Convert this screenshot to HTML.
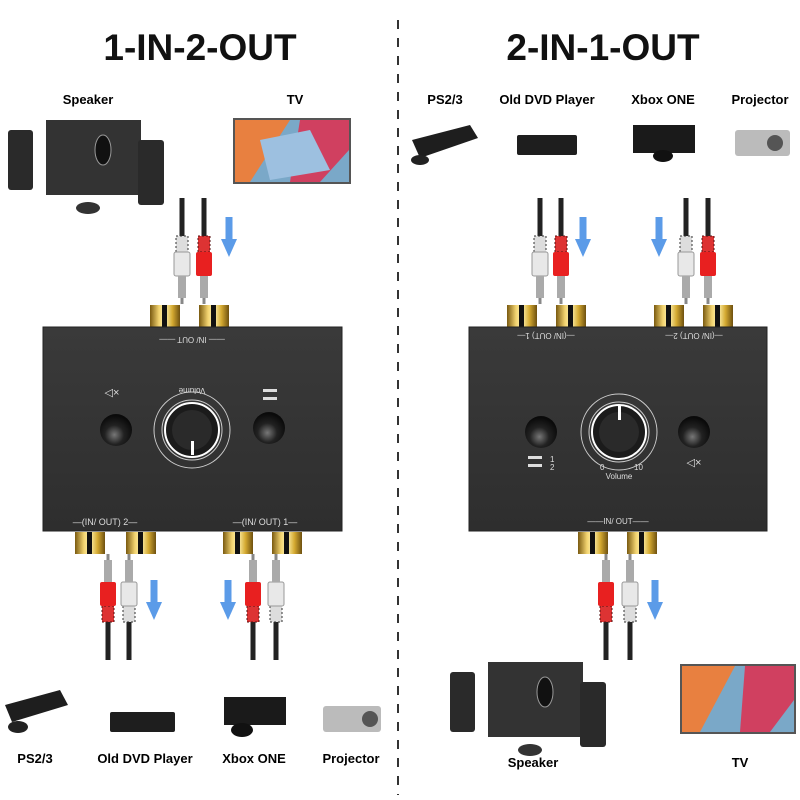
<!DOCTYPE html>
<html><head><meta charset="utf-8"><style>
html,body{margin:0;padding:0;background:#fff}
svg{display:block}
text{font-family:"Liberation Sans",sans-serif}
</style></head><body>
<svg width="800" height="800" viewBox="0 0 800 800" xmlns="http://www.w3.org/2000/svg">
<defs>
 <linearGradient id="gold" x1="0" x2="1"><stop offset="0" stop-color="#7a5a10"/><stop offset=".3" stop-color="#f3d470"/><stop offset=".5" stop-color="#fff3b0"/><stop offset=".75" stop-color="#d4a930"/><stop offset="1" stop-color="#6e5010"/></linearGradient>
 <radialGradient id="btn" cx=".45" cy=".65" r=".6"><stop offset="0" stop-color="#777"/><stop offset=".5" stop-color="#222"/><stop offset="1" stop-color="#0a0a0a"/></radialGradient>
 <linearGradient id="box" x1="0" y1="0" x2="0" y2="1"><stop offset="0" stop-color="#3a3a3a"/><stop offset="1" stop-color="#2e2e2e"/></linearGradient>
 <g id="rca"><rect x="-15" y="0" width="30" height="22" fill="url(#gold)"/><rect x="-3" y="0" width="5" height="22" fill="#111"/></g>
 <g id="plugW"><rect x="-2.5" y="0" width="5" height="38" fill="#222"/><rect x="-6" y="38" width="12" height="16" fill="#ddd" stroke="#333" stroke-width="1" stroke-dasharray="2 2"/><rect x="-8" y="54" width="16" height="24" rx="2" fill="#e8e8e8" stroke="#999"/><rect x="-4" y="78" width="8" height="22" fill="#aaa"/><rect x="-1.5" y="100" width="3" height="6" fill="#888"/></g>
 <g id="plugR"><rect x="-2.5" y="0" width="5" height="38" fill="#222"/><rect x="-6" y="38" width="12" height="16" fill="#d33" stroke="#511" stroke-width="1" stroke-dasharray="2 2"/><rect x="-8" y="54" width="16" height="24" rx="2" fill="#e82020"/><rect x="-4" y="78" width="8" height="22" fill="#aaa"/><rect x="-1.5" y="100" width="3" height="6" fill="#888"/></g>
 <g id="arrD"><rect x="-3.5" y="0" width="7" height="24" fill="#5b9be8"/><polygon points="-8,22 8,22 0,40" fill="#5b9be8"/></g>
 <g id="knob"><circle r="38" fill="none" stroke="#ccc" stroke-width="1"/><circle r="30" fill="none" stroke="#ccc" stroke-width="1"/><circle r="27" fill="#1b1b1b" stroke="#fff" stroke-width="2"/><circle r="20" fill="#2a2a2a"/></g>
 <g id="spk"><rect x="0" y="10" width="25" height="60" rx="3" fill="#2a2a2a"/><rect x="38" y="0" width="95" height="75" fill="#333"/><ellipse cx="95" cy="30" rx="8" ry="15" fill="#111" stroke="#999"/><rect x="130" y="20" width="26" height="65" rx="3" fill="#2a2a2a"/><ellipse cx="80" cy="88" rx="12" ry="6" fill="#333"/></g>
</defs>

<line x1="398" y1="20" x2="398" y2="795" stroke="#333" stroke-width="2" stroke-dasharray="9 9"/>
<text x="200" y="60" font-size="37" font-weight="bold" text-anchor="middle" fill="#111">1-IN-2-OUT</text>
<text x="603" y="60" font-size="37" font-weight="bold" text-anchor="middle" fill="#111">2-IN-1-OUT</text>

<!-- top left devices -->
<text x="88" y="104" font-size="13" font-weight="bold" text-anchor="middle">Speaker</text>
<text x="295" y="104" font-size="13" font-weight="bold" text-anchor="middle">TV</text>
<g transform="translate(8,120)"><use href="#spk"/></g>
<rect x="233" y="118" width="118" height="66" fill="#555"/>
<rect x="235" y="120" width="114" height="62" fill="#7aa8c8"/>
<polygon points="235,120 290,120 250,182 235,182" fill="#e88040"/>
<polygon points="300,120 349,120 349,150 320,182 290,182" fill="#d04060"/>
<polygon points="260,140 310,130 330,170 270,180" fill="#9dc0e0"/>

<!-- top right devices -->
<text x="445" y="104" font-size="13" font-weight="bold" text-anchor="middle">PS2/3</text>
<text x="547" y="104" font-size="13" font-weight="bold" text-anchor="middle">Old DVD Player</text>
<text x="663" y="104" font-size="13" font-weight="bold" text-anchor="middle">Xbox ONE</text>
<text x="760" y="104" font-size="13" font-weight="bold" text-anchor="middle">Projector</text>
<polygon points="412,140 470,125 478,138 420,158" fill="#1e1e1e"/><ellipse cx="420" cy="160" rx="9" ry="5" fill="#222"/>
<rect x="517" y="135" width="60" height="20" rx="2" fill="#1e1e1e"/>
<rect x="633" y="125" width="62" height="28" fill="#1a1a1a"/><ellipse cx="663" cy="156" rx="10" ry="6" fill="#111"/>
<rect x="735" y="130" width="55" height="26" rx="3" fill="#bbb"/><circle cx="775" cy="143" r="8" fill="#555"/>

<!-- left box -->
<use href="#rca" x="165" y="305"/><use href="#rca" x="214" y="305"/>
<rect x="43" y="327" width="299" height="204" fill="url(#box)" stroke="#222"/>
<text x="192" y="343" font-size="8" fill="#ddd" text-anchor="middle" transform="rotate(180 192 340)">—— IN/ OUT ——</text>
<circle cx="116" cy="430" r="16" fill="url(#btn)"/><circle cx="269" cy="428" r="16" fill="url(#btn)"/>
<use href="#knob" x="192" y="430"/><rect x="191" y="441" width="3" height="14" fill="#fff"/>
<text x="192" y="382" font-size="8" fill="#ddd" text-anchor="middle" transform="rotate(180 192 385)">Volume</text>
<text x="112" y="396" font-size="11" fill="#ddd" text-anchor="middle">◁×</text>
<rect x="263" y="389" width="14" height="3" fill="#ddd"/><rect x="263" y="397" width="14" height="3" fill="#ddd"/>
<text x="105" y="525" font-size="9" fill="#ddd" text-anchor="middle">—(IN/ OUT) 2—</text>
<text x="265" y="525" font-size="9" fill="#ddd" text-anchor="middle">—(IN/ OUT) 1—</text>
<use href="#rca" x="90" y="532"/><use href="#rca" x="141" y="532"/><use href="#rca" x="238" y="532"/><use href="#rca" x="287" y="532"/>

<!-- right box -->
<use href="#rca" x="522" y="305"/><use href="#rca" x="571" y="305"/><use href="#rca" x="669" y="305"/><use href="#rca" x="718" y="305"/>
<rect x="469" y="327" width="298" height="204" fill="url(#box)" stroke="#222"/>
<text x="546" y="339" font-size="8" fill="#ddd" text-anchor="middle" transform="rotate(180 546 336)">—(IN/ OUT) 1—</text>
<text x="694" y="339" font-size="8" fill="#ddd" text-anchor="middle" transform="rotate(180 694 336)">—(IN/ OUT) 2—</text>
<circle cx="541" cy="432" r="16" fill="url(#btn)"/><circle cx="694" cy="432" r="16" fill="url(#btn)"/>
<use href="#knob" x="619" y="432"/><rect x="618" y="406" width="3" height="14" fill="#fff"/>
<text x="600" y="470" font-size="8" fill="#ddd">0</text><text x="634" y="470" font-size="8" fill="#ddd">10</text>
<text x="619" y="479" font-size="8" fill="#ddd" text-anchor="middle">Volume</text>
<rect x="528" y="456" width="14" height="3" fill="#ddd"/><rect x="528" y="464" width="14" height="3" fill="#ddd"/>
<text x="550" y="462" font-size="8" fill="#ddd">1</text><text x="550" y="470" font-size="8" fill="#ddd">2</text>
<text x="694" y="466" font-size="11" fill="#ddd" text-anchor="middle">◁×</text>
<text x="618" y="524" font-size="8" fill="#ddd" text-anchor="middle">——IN/ OUT——</text>
<use href="#rca" x="593" y="532"/><use href="#rca" x="642" y="532"/>

<!-- top cables -->
<use href="#plugW" x="182" y="198"/><use href="#plugR" x="204" y="198"/><use href="#arrD" x="229" y="217"/>
<use href="#plugW" x="540" y="198"/><use href="#plugR" x="561" y="198"/><use href="#arrD" x="583" y="217"/>
<use href="#arrD" x="659" y="217"/><use href="#plugW" x="686" y="198"/><use href="#plugR" x="708" y="198"/>

<!-- bottom cables (pointing up) -->
<g transform="translate(108,660) scale(1,-1)"><use href="#plugR"/></g>
<g transform="translate(129,660) scale(1,-1)"><use href="#plugW"/></g>
<use href="#arrD" x="154" y="580"/>
<use href="#arrD" x="228" y="580"/>
<g transform="translate(253,660) scale(1,-1)"><use href="#plugR"/></g>
<g transform="translate(276,660) scale(1,-1)"><use href="#plugW"/></g>
<g transform="translate(606,660) scale(1,-1)"><use href="#plugR"/></g>
<g transform="translate(630,660) scale(1,-1)"><use href="#plugW"/></g>
<use href="#arrD" x="655" y="580"/>

<!-- bottom left devices -->
<polygon points="5,705 60,690 68,705 12,722" fill="#1e1e1e"/><ellipse cx="18" cy="727" rx="10" ry="6" fill="#222"/>
<rect x="110" y="712" width="65" height="20" rx="2" fill="#1e1e1e"/>
<rect x="224" y="697" width="62" height="28" fill="#1a1a1a"/><ellipse cx="242" cy="730" rx="11" ry="7" fill="#111"/>
<rect x="323" y="706" width="58" height="26" rx="3" fill="#bbb"/><circle cx="370" cy="719" r="8" fill="#555"/>
<text x="35" y="763" font-size="13" font-weight="bold" text-anchor="middle">PS2/3</text>
<text x="145" y="763" font-size="13" font-weight="bold" text-anchor="middle">Old DVD Player</text>
<text x="254" y="763" font-size="13" font-weight="bold" text-anchor="middle">Xbox ONE</text>
<text x="351" y="763" font-size="13" font-weight="bold" text-anchor="middle">Projector</text>

<!-- bottom right devices -->
<g transform="translate(450,662)"><use href="#spk"/></g>
<rect x="680" y="664" width="116" height="70" fill="#555"/>
<rect x="682" y="666" width="112" height="66" fill="#7aa8c8"/>
<polygon points="682,666 735,666 700,732 682,732" fill="#e88040"/>
<polygon points="745,666 794,666 794,700 770,732 740,732" fill="#d04060"/>
<text x="533" y="767" font-size="13" font-weight="bold" text-anchor="middle">Speaker</text>
<text x="740" y="767" font-size="13" font-weight="bold" text-anchor="middle">TV</text>
</svg>
</body></html>
